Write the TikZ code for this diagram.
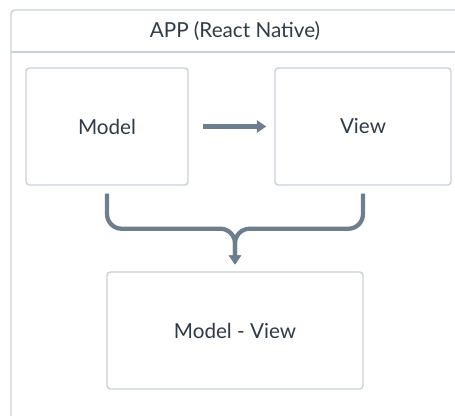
\documentclass[tikz,border=0pt]{standalone}
\usepackage{fontspec}
\setmainfont{Lato}
\usetikzlibrary{arrows.meta, positioning, calc}
\definecolor{framegray}{HTML}{C9D1D9}
\definecolor{linkgray}{HTML}{6E7E8C}
\definecolor{textgray}{HTML}{2F3B46}

\begin{document}
\begin{tikzpicture}[x=0.75pt, y=-0.75pt,
    % Node styles
    block/.style={rectangle, draw=framegray, line width=1.1pt, rounded corners=2.5pt,
                  fill=white, text=textgray, font=\fontsize{15.5}{18}\selectfont, text centered},
    title/.style={text=textgray, font=\fontsize{15.5}{18}\selectfont},
    arrow/.style={-{Triangle[length=7pt, width=9pt]}, line width=3.2pt, color=linkgray}
]
\useasboundingbox (0,0) rectangle (455,416);
\begin{scope}
\clip (0,0) rectangle (455,416);

% Outer app frame
\draw[draw=framegray, line width=1.1pt, rounded corners=3pt] (11,10) rectangle (480,440);
\draw[draw=framegray, line width=1.1pt] (11,52) -- (480,52);
\node[title] (app) at (235,31) {APP (React Native)};

% Boxes
\node[block, minimum width=121.5pt, minimum height=87.75pt] (model) at (107,126.5) {Model};
\node[block, minimum width=132pt, minimum height=87.75pt] (view) at (363,126.5) {View};
\node[block, minimum width=192pt, minimum height=87.75pt] (mv) at (235,330.5) {Model - View};

% Arrows
\draw[arrow] ([xshift=11pt]model.east) -- ([xshift=-6pt]view.west);
\coordinate (join) at ($(model.south)!0.5!(view.south) + (0,43)$);
\draw[arrow, rounded corners=11pt] ([yshift=-6pt]model.south) |- (join) -- ([yshift=5pt]mv.north);
\draw[arrow, rounded corners=11pt] ([yshift=-6pt]view.south) |- (join) -- ([yshift=5pt]mv.north);
\end{scope}

\end{tikzpicture}
\end{document}
